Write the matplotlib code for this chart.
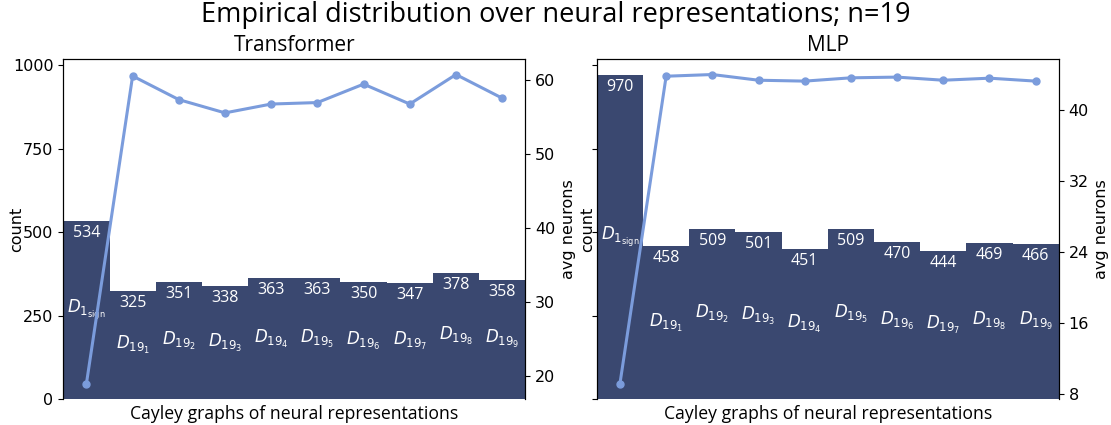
import matplotlib
matplotlib.use("Agg")
import matplotlib.pyplot as plt
import numpy as np

# representation labels (same order in both models)
labels = [r"$D_{1_{\mathrm{sign}}}$"] + [r"$D_{19_{%d}}$" % k for k in range(1, 10)]

transformer_counts = [534, 325, 351, 338, 363, 363, 350, 347, 378, 358]
transformer_neurons = [18.9, 60.6, 57.4, 55.6, 56.8, 57.0, 59.5, 56.8, 60.8, 57.6]

mlp_counts = [970, 458, 509, 501, 451, 509, 470, 444, 469, 466]
mlp_neurons = [9.2, 43.75, 43.94, 43.3, 43.2, 43.57, 43.65, 43.3, 43.53, 43.2]

bar_color = "#3a4870"
line_color = "#7b9cdc"
text_font = "Open Sans"

fig, axes = plt.subplots(1, 2, sharey=True, figsize=(11.11, 4.25), dpi=100)
fig.subplots_adjust(left=0.057, right=0.953, bottom=0.061, top=0.861, wspace=0.155)


def draw_panel(ax, counts, neurons, title):
    x = np.arange(len(counts))
    bars = ax.bar(x, counts, width=1.0, color=bar_color)
    ax.set_xlim(-0.5, len(counts) - 0.5)
    # category name in the middle of each bar
    ax.bar_label(bars, labels=labels, label_type="center", color="white", fontsize=12)
    # count just below the top edge
    for xi, c in zip(x, counts):
        ax.annotate(str(c), (xi, c), xytext=(0, -3), textcoords="offset points",
                    ha="center", va="top", color="white", fontsize=11.5, family=text_font)
    ax.set_xticks([])
    ax.set_ylabel("count", fontsize=11.5)
    ax.set_xlabel("Cayley graphs of neural representations", fontsize=12.7, family=text_font)
    ax.set_title(title, fontsize=15, family=text_font)
    ax.tick_params(axis="y", labelsize=11.5)
    ax.spines["bottom"].set_visible(False)

    ax2 = ax.twinx()
    ax2.plot(x, neurons, color=line_color, lw=2.2, marker="o", ms=5)
    ax2.set_ylabel("avg neurons", fontsize=11.5)
    ax2.tick_params(axis="y", labelsize=11.5)
    ax2.spines["bottom"].set_visible(False)
    return ax2


tw_left = draw_panel(axes[0], transformer_counts, transformer_neurons, "Transformer")
tw_right = draw_panel(axes[1], mlp_counts, mlp_neurons, "MLP")
axes[0].set_yticks([0, 250, 500, 750, 1000])
tw_right.set_yticks([8, 16, 24, 32, 40])

# pull the count labels in close to the axes
axes[0].yaxis.set_label_coords(-0.084, 0.5)
axes[1].yaxis.set_label_coords(-0.004, 0.5)

fig.suptitle("Empirical distribution over neural representations; n=19",
             fontsize=19.5, family=text_font, y=0.997)

fig.savefig("out.png")
